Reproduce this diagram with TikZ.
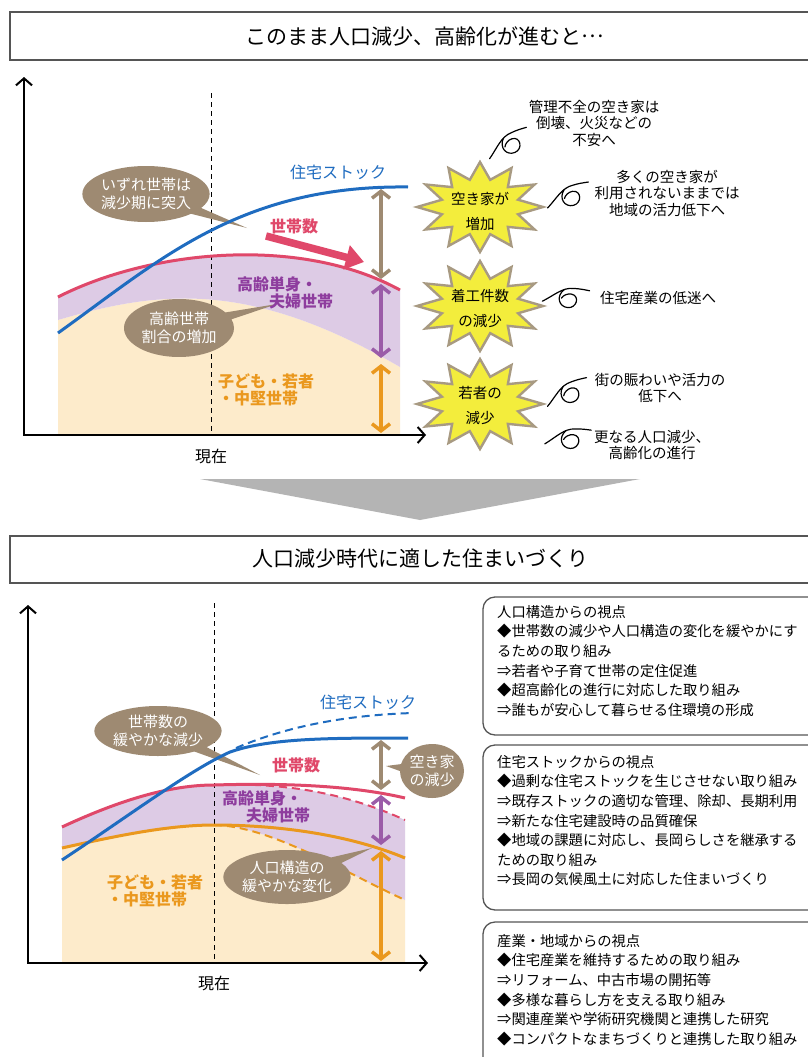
\documentclass[tikz,border=0pt]{standalone}
\usepackage{fontspec}
\setmainfont{Noto Sans CJK JP}
\usetikzlibrary{arrows.meta,shapes.geometric,shapes.callouts}
\definecolor{cblue}{HTML}{1F6CC0}
\definecolor{cred}{HTML}{E0486A}
\definecolor{cbeige}{HTML}{FDEBCB}
\definecolor{clav}{HTML}{DDCBE5}
\definecolor{cpurp}{HTML}{8E3D9E}
\definecolor{cpurparrow}{HTML}{9B5CA8}
\definecolor{corange}{HTML}{EA981E}
\definecolor{cbrown}{HTML}{9E8A72}
\definecolor{cyellow}{HTML}{F3ED3C}
\definecolor{cstarline}{HTML}{A89A82}
\definecolor{cgray}{HTML}{B4B4B4}
\definecolor{cbox}{HTML}{555555}
\tikzset{
  swirl/.pic={
    \draw[line width=1.2pt, line cap=round] (-22,10) .. controls (-12,2) and (-5,-8) .. (6,-9) .. controls (12,-10) and (17,-10) .. (22,-10);
    \draw[line width=1.2pt, line cap=round] (-3,-6) .. controls (-10,2) and (-5,12) .. (4,11) .. controls (13,10) and (14,-3) .. (5,-3) .. controls (1,-3) and (-3,0) .. (-4,3);
  }
}
\begin{document}
\begin{tikzpicture}[x=1pt,y=-1pt,
  titlebox/.style={draw=cbox, line width=1.2pt},
  titletxt/.style={inner sep=0pt, font=\fontsize{21}{24}\selectfont},
  axisline/.style={line width=2pt, {Straight Barb[length=7pt,width=16pt]}-{Straight Barb[length=7pt,width=16pt]}},
  nowline/.style={dashed, dash pattern=on 5pt off 4pt, line width=0.9pt},
  dbl/.style={line width=3.5pt, {Straight Barb[length=7pt,width=18pt]}-{Straight Barb[length=7pt,width=18pt]}},
  callout/.style={ellipse callout, fill=cbrown, text=white, inner sep=0pt, align=center, font=\fontsize{15}{18}\selectfont},
  burst/.style={star, star points=12, star point ratio=1.6, minimum size=90pt, xscale=1.4, fill=cyellow, draw=cstarline, line width=2.4pt},
  bursttxt/.style={inner sep=0pt, align=center, font=\fontsize{14.5}{25}\selectfont},
  note/.style={inner sep=0pt, align=center, font=\fontsize{14.5}{16.5}\selectfont},
  lab/.style={inner sep=0pt, align=center, font=\fontsize{16}{17}\selectfont\bfseries},
  boxtxt/.style={inner sep=0pt, align=left, anchor=north west, font=\fontsize{14.3}{19.6}\selectfont},
  rbox/.style={draw=cbox, line width=1.3pt, rounded corners=12pt},
  curve/.style={line width=3pt},
  oldcurve/.style={line width=2pt, dashed, dash pattern=on 8pt off 5pt}
]
\useasboundingbox (0,0) rectangle (808,1057);
\fill[white] (0,0) rectangle (808,1057);

% ---------- title 1 ----------
\draw[titlebox] (10,12) rectangle (830,60);
\node[titletxt] (title1) at (425,36) {このまま人口減少、高齢化が進むと\raisebox{0.32em}{…}};

% ---------- top chart ----------
\fill[cbeige] (58,320) .. controls (160,290) and (250,280) .. (400,367) -- (400,435) -- (58,435) -- cycle;
\fill[clav] (58,297) .. controls (150,250) and (300,235) .. (400,290) -- (400,367) .. controls (250,280) and (160,290) .. (58,320) -- cycle;
\draw[nowline] (211,93) -- (211,435);

\coordinate (p1) at (247,228);
\node[callout, minimum width=122pt, minimum height=56pt, callout absolute pointer={(p1)}] (c1) at (146,194) {いずれ世帯は\\減少期に突入};

\draw[cred, curve] (58,297) .. controls (150,250) and (300,235) .. (400,290);
\draw[cblue, curve] (58,333) .. controls (160,260) and (240,185) .. (408,187);

\coordinate (p2) at (277,304);
\node[callout, minimum width=110pt, minimum height=58pt, callout absolute pointer={(p2)}] (c2) at (179,328) {高齢世帯\\割合の増加};

\coordinate (ra1) at (266,236);
\coordinate (ra2) at (364,262);
\draw[cred, line width=7.5pt, -{Triangle[length=18pt,width=24pt]}] (ra1) -- (ra2);

\node[lab, text=cblue, font=\fontsize{16}{17}\selectfont] (stock1) at (338,172) {住宅ストック};
\node[lab, text=cred] (hh1) at (294,226) {世帯数};
\node[lab, text=cpurp] (old1a) at (277,284) {高齢単身・};
\node[lab, text=cpurp] (old1b) at (301,301) {夫婦世帯};
\node[lab, text=corange] (young1a) at (266,381) {子ども・若者};
\node[lab, text=corange] (young1b) at (258,398) {・中堅世帯};

\coordinate (a1) at (381,189); \coordinate (a2) at (381,279);
\coordinate (a3) at (381,284); \coordinate (a4) at (381,358);
\coordinate (a5) at (381,364); \coordinate (a6) at (381,433);
\draw[dbl, cbrown] (a1) -- (a2);
\draw[dbl, cpurparrow] (a3) -- (a4);
\draw[dbl, corange] (a5) -- (a6);

\coordinate (ytop1) at (24,77);
\coordinate (org1) at (24,435);
\coordinate (xend1) at (426,435);
\draw[axisline] (ytop1) -- (org1) -- (xend1);
\node[inner sep=0pt, font=\fontsize{16}{18}\selectfont] (now1) at (211,456) {現在};

% ---------- bursts ----------
\node[burst] (b1) at (480,207) {};
\node[bursttxt] (b1t) at (480,211) {空き家が\\増加};
\node[burst] (b2) at (480,306) {};
\node[bursttxt] (b2t) at (480,308) {着工件数\\の減少};
\node[burst] (b3) at (480,404) {};
\node[bursttxt] (b3t) at (480,405) {若者の\\減少};

\pic[rotate=16] (s1) at (508,143) {swirl};
\pic[rotate=8] (s2) at (568,195) {swirl};
\pic[rotate=-12] (s3) at (566,296) {swirl};
\pic[rotate=12] (s4) at (567,392) {swirl};
\pic[rotate=-8] (s5) at (568,437) {swirl};

\node[note] (n1) at (594,123) {管理不全の空き家は\\倒壊、火災などの\\不安へ};
\node[note] (n2) at (667,193) {多くの空き家が\\利用されないままでは\\地域の活力低下へ};
\node[note] (n3) at (658,298) {住宅産業の低迷へ};
\node[note] (n4) at (660,388) {街の賑わいや活力の\\低下へ};
\node[note] (n5) at (652,445) {更なる人口減少、\\高齢化の進行};

% ---------- arrow down ----------
\fill[cgray] (200,479) -- (640,479) -- (420,520) -- cycle;

% ---------- title 2 ----------
\draw[titlebox] (10,536) rectangle (830,583);
\node[titletxt] (title2) at (420,559) {人口減少時代に適した住まいづくり};

% ---------- bottom chart ----------
\fill[cbeige] (62,848) .. controls (120,835) and (170,825) .. (214,825) .. controls (270,826) and (340,870) .. (405,900) -- (405,963) -- (62,963) -- cycle;
\fill[clav] (62,827) .. controls (120,800) and (170,785) .. (214,785) .. controls (290,782) and (350,795) .. (405,820) -- (405,900) .. controls (340,870) and (270,826) .. (214,825) .. controls (170,825) and (120,835) .. (62,848) -- cycle;
\draw[nowline] (214,603) -- (214,963);

\coordinate (q1) at (260,775);
\node[callout, minimum width=120pt, minimum height=50pt, callout absolute pointer={(q1)}] (d1) at (158,731) {世帯数の\\緩やかな減少};

\draw[cred, oldcurve] (214,785) .. controls (290,782) and (350,795) .. (405,820);
\draw[corange, oldcurve] (214,825) .. controls (270,826) and (340,870) .. (405,900);
\draw[cblue, oldcurve] (236,748) .. controls (290,725) and (350,715) .. (413,713);

\draw[cred, curve] (62,827) .. controls (120,800) and (170,785) .. (214,785) .. controls (280,783) and (350,785) .. (405,798);
\draw[corange, curve] (62,848) .. controls (120,835) and (170,825) .. (214,825) .. controls (280,825) and (350,835) .. (405,858);
\draw[cblue, curve] (62,860) .. controls (130,815) and (190,770) .. (230,752) .. controls (270,738) and (330,738) .. (408,738);

\coordinate (q2) at (372,848);
\node[callout, minimum width=118pt, minimum height=54pt, callout absolute pointer={(q2)}] (d2) at (287,877) {人口構造の\\緩やかな変化};
\coordinate (q3) at (386,766);
\node[callout, minimum width=64pt, minimum height=54pt, callout absolute pointer={(q3)}] (d3) at (432,771) {空き家\\の減少};

\node[lab, text=cblue, font=\fontsize{16}{17}\selectfont] (stock2) at (368,702) {住宅ストック};
\node[lab, text=cred] (hh2) at (296,765) {世帯数};
\node[lab, text=cpurp] (old2a) at (262,798) {高齢単身・};
\node[lab, text=cpurp] (old2b) at (278,815) {夫婦世帯};
\node[lab, text=corange] (young2a) at (155,882) {子ども・若者};
\node[lab, text=corange] (young2b) at (147,899) {・中堅世帯};

\coordinate (e1) at (381,740); \coordinate (e2) at (381,790);
\coordinate (e3) at (381,795); \coordinate (e4) at (381,845);
\coordinate (e5) at (381,851); \coordinate (e6) at (381,961);
\draw[dbl, cbrown] (e1) -- (e2);
\draw[dbl, cpurparrow] (e3) -- (e4);
\draw[dbl, corange] (e5) -- (e6);

\coordinate (ytop2) at (28,605);
\coordinate (org2) at (28,963);
\coordinate (xend2) at (428,963);
\draw[axisline] (ytop2) -- (org2) -- (xend2);
\node[inner sep=0pt, font=\fontsize{16}{18}\selectfont] (now2) at (214,983) {現在};

% ---------- right boxes ----------
\draw[rbox] (483,597) rectangle (840,735);
\node[boxtxt] (t1) at (497,605) {人口構造からの視点\\◆世帯数の減少や人口構造の変化を緩やかにす\\るための取り組み\\⇒若者や子育て世帯の定住促進\\◆超高齢化の進行に対応した取り組み\\⇒誰もが安心して暮らせる住環境の形成};
\draw[rbox] (483,745) rectangle (840,910);
\node[boxtxt] (t2) at (497,755) {住宅ストックからの視点\\◆過剰な住宅ストックを生じさせない取り組み\\⇒既存ストックの適切な管理、除却、長期利用\\⇒新たな住宅建設時の品質確保\\◆地域の課題に対応し、長岡らしさを継承する\\ための取り組み\\⇒長岡の気候風土に対応した住まいづくり};
\draw[rbox] (483,922) rectangle (840,1080);
\node[boxtxt] (t3) at (497,934) {産業・地域からの視点\\◆住宅産業を維持するための取り組み\\⇒リフォーム、中古市場の開拓等\\◆多様な暮らし方を支える取り組み\\⇒関連産業や学術研究機関と連携した研究\\◆コンパクトなまちづくりと連携した取り組み};
\end{tikzpicture}
\end{document}
